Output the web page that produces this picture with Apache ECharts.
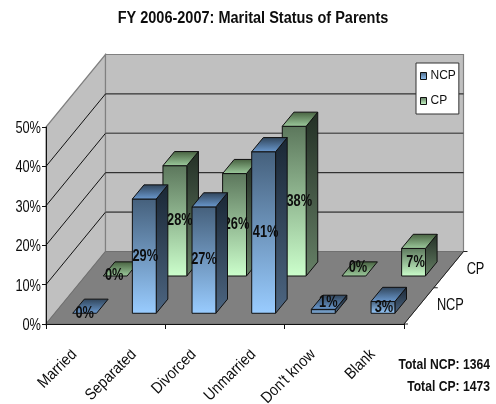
<!DOCTYPE html>
<html><head><meta charset="utf-8">
<style>html,body{margin:0;padding:0;background:#fff}#c{width:496px;height:404px}</style>
<script src="https://cdn.jsdelivr.net/npm/echarts@6/dist/echarts.min.js"></script>
</head><body><div id="c"></div>
<script>
const titleText = 'FY 2006-2007: Marital Status of Parents';
const categories = ['Married','Separated','Divorced','Unmarried',"Don't know",'Blank'];
const ncpValues = [0,29,27,41,1,3];
const cpValues = [0,28,26,38,0,7];
const yTicks = [0,10,20,30,40,50];
const depthCategories = ['NCP','CP'];
const totals = ['Total NCP: 1364','Total CP: 1473'];

const SANS = '"Liberation Sans",Arial,sans-serif';
const NARROW_X = 0.8;
const DEPTH = [59.5,-72.5];
const BAR_DEPTH = 0.195;
const BAR_WIDTH = 0.4;
const ncpLabelNudge = [[0,0],[1,0],[0,0],[2,0],[5,-9],[1,0]];
const cpLabelNudge = [[-1,0],[5,0],[2,0],[5,0],[4,-8],[2,0]];

const LG = (a,b)=>new echarts.graphic.LinearGradient(0,0,0,1,[{offset:0,color:a},{offset:1,color:b}]);
const blue = {front:['#45607c','#99ccff'],side:['#1a2735','#4d6682'],top:['#2f4358','#6b9ad0']};
const green = {front:['#5c775c','#ccffcc'],side:['#232f25','#668066'],top:['#46603f','#9ecc9e']};

function narrowText(text,x,y,font,align,extra){
  return Object.assign({type:'text',x:x,y:y,scaleX:NARROW_X,
    style:{text:text,x:0,y:0,align:align,verticalAlign:'middle',font:font,fill:'#0d0d0d'}},extra||{});
}
function face(pts,fill){
  return {type:'polygon',shape:{points:pts},style:{fill:fill,stroke:'#101010',lineWidth:1,lineJoin:'round'}};
}
function barRender(depthStart,colors,nudges){
  return function(params,api){
    const i=api.value(0),v=api.value(1);
    const base=api.coord([i,0]),top=api.coord([i,v]);
    const w=api.size([1,0])[0]*BAR_WIDTH;
    const ox=DEPTH[0]*depthStart,oy=DEPTH[1]*depthStart;
    const dx=DEPTH[0]*BAR_DEPTH,dy=DEPTH[1]*BAR_DEPTH;
    const l=base[0]-w/2+ox,r=l+w,b=base[1]+oy,t=top[1]+oy;
    const children=[];
    if(b-t>0.5){
      children.push(face([[r,t],[r+dx,t+dy],[r+dx,b+dy],[r,b]],LG(colors.side[0],colors.side[1])));
      children.push(face([[l,t],[r,t],[r,b],[l,b]],LG(colors.front[0],colors.front[1])));
    }
    children.push(face([[l,t],[l+dx,t+dy],[r+dx,t+dy],[r,t]],LG(colors.top[0],colors.top[1])));
    const n=nudges[params.dataIndex];
    children.push(narrowText(v+'%',(l+r)/2+n[0],(t+b)/2+n[1],'bold 16px '+SANS,'center'));
    return {type:'group',children:children};
  };
}
function wallRender(params,api){
  const left=api.coord([0,0])[0]-api.size([1,0])[0]/2;
  const right=left+api.size([1,0])[0]*categories.length;
  const y0=api.coord([0,0])[1],yTop=api.coord([0,yTicks[yTicks.length-1]])[1];
  const [dx,dy]=DEPTH;
  const wallStyle={fill:'#c0c0c0',stroke:'#808080',lineWidth:1.2};
  const kids=[
    {type:'polygon',shape:{points:[[left,y0],[left+dx,y0+dy],[left+dx,yTop+dy],[left,yTop]]},style:wallStyle},
    {type:'polygon',shape:{points:[[left+dx,y0+dy],[right+dx,y0+dy],[right+dx,yTop+dy],[left+dx,yTop+dy]]},style:wallStyle},
    {type:'polygon',shape:{points:[[left,y0],[right,y0],[right+dx,y0+dy],[left+dx,y0+dy]]},style:{fill:'#808080',stroke:'#707070',lineWidth:1}}
  ];
  yTicks.slice(1,-1).forEach((tv,k)=>{
    const y=api.coord([0,tv])[1];
    kids.push({type:'line',shape:{x1:left,y1:y,x2:left+dx,y2:y+dy},style:{stroke:'#111',lineWidth:1}});
    const strong=k%2===1;
    kids.push({type:'line',shape:{x1:left+dx,y1:y+dy,x2:right+dx,y2:y+dy},style:{stroke:strong?'#111':'#5a5a5a',lineWidth:strong?1:1.6}});
  });
  kids.push({type:'line',shape:{x1:right,y1:y0,x2:right+dx,y2:y0+dy},style:{stroke:'#222',lineWidth:1}});
  [0,0.5,1].forEach(f=>{
    const px=right+dx*f,py=y0+dy*f;
    kids.push({type:'line',shape:{x1:px,y1:py,x2:px+4,y2:py},style:{stroke:'#222',lineWidth:1}});
  });
  depthCategories.forEach((name,k)=>{
    const f=(k+0.5)/depthCategories.length;
    kids.push(narrowText(name,right+dx*f+18,y0+dy*f,'16px '+SANS,'left'));
  });
  yTicks.forEach(tv=>{
    kids.push(narrowText(tv+'%',left-5,api.coord([0,tv])[1]+1.5,'16px '+SANS,'right'));
  });
  kids.push({type:'group',
    clipPath:{type:'rect',shape:{x:0,y:349.5,width:496,height:55}},
    children:categories.map((name,i)=>{
      const c=api.coord([i,0]);
      return {type:'text',x:c[0]-1.5,y:y0+28,rotation:Math.PI/4,scaleX:0.88,
        style:{text:name,x:0,y:0,align:'right',verticalAlign:'middle',font:'16px '+SANS,fill:'#0d0d0d'}};
    })});
  return {type:'group',children:kids};
}

const chart=echarts.init(document.getElementById('c'),null,{renderer:'canvas'});
chart.setOption({
  animation:false,
  backgroundColor:'#fff',
  grid:{left:46,top:127,width:358,height:197},
  legend:{
    left:416,top:63,orient:'vertical',padding:[7,3,7,4],itemGap:13,itemWidth:6,itemHeight:7,
    backgroundColor:'#fff',borderColor:'#333',borderWidth:1,
    textStyle:{fontFamily:SANS,fontSize:12,color:'#111',padding:[0,0,0,-1]},
    data:[
      {name:'NCP',icon:'rect',itemStyle:{color:LG('#45607c','#99ccff'),borderColor:'#101010',borderWidth:1}},
      {name:'CP',icon:'rect',itemStyle:{color:LG('#5c775c','#ccffcc'),borderColor:'#101010',borderWidth:1}}
    ]
  },
  xAxis:{type:'category',data:categories,z:1,
    axisLine:{lineStyle:{color:'#111',width:1}},
    axisTick:{show:true,alignWithLabel:false,length:5,lineStyle:{color:'#111'}},
    axisLabel:{show:false}},
  yAxis:{type:'value',min:0,max:50,interval:10,z:1,
    axisLine:{show:true,lineStyle:{color:'#111',width:1}},
    axisTick:{show:true,length:4,lineStyle:{color:'#111'}},
    splitLine:{show:false},
    axisLabel:{show:false}},
  graphic:[
    {type:'text',x:253,y:19,scaleX:0.906,z:10,style:{text:titleText,x:0,y:0,align:'center',verticalAlign:'middle',font:'bold 16px '+SANS,fill:'#0d0d0d'}},
    {type:'text',x:490,y:365,scaleX:0.81,z:10,style:{text:totals[0],x:0,y:0,align:'right',verticalAlign:'middle',font:'bold 15px '+SANS,fill:'#111'}},
    {type:'text',x:490,y:387,scaleX:0.81,z:10,style:{text:totals[1],x:0,y:0,align:'right',verticalAlign:'middle',font:'bold 15px '+SANS,fill:'#111'}}
  ],
  series:[
    {type:'custom',z:0,silent:true,renderItem:wallRender,data:[[0,0]],encode:{x:0,y:1},legendHoverLink:false},
    {type:'custom',name:'CP',z:2,renderItem:barRender(0.662,green,cpLabelNudge),clip:false,data:cpValues.map((v,i)=>[i,v]),encode:{x:0,y:1}},
    {type:'custom',name:'NCP',z:3,renderItem:barRender(0.148,blue,ncpLabelNudge),clip:false,data:ncpValues.map((v,i)=>[i,v]),encode:{x:0,y:1}}
  ]
});
</script></body></html>
